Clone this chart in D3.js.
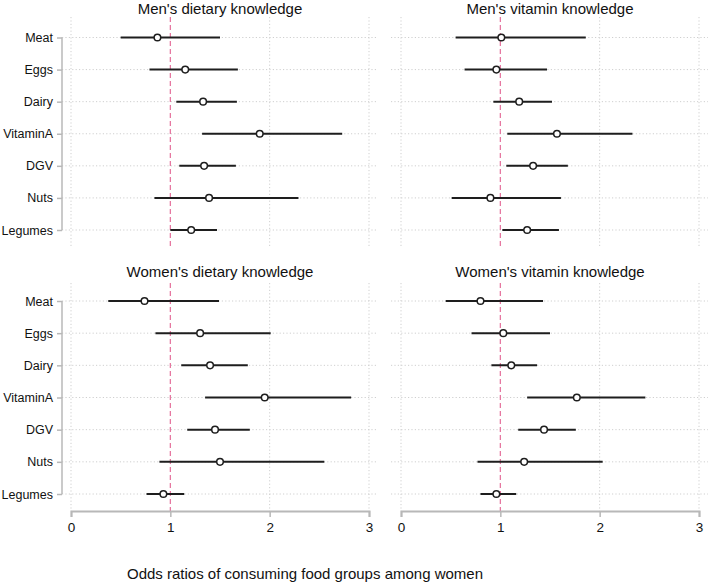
<!DOCTYPE html>
<html>
<head>
<meta charset="utf-8">
<script src="https://cdn.jsdelivr.net/npm/d3@7"></script>
<style>
  body { margin: 0; background: #fff; }
  svg { font-family: "Liberation Sans", Arial, sans-serif; display: block; }
</style>
</head>
<body>
<div id="chart"></div>
<script>
// categories (top to bottom)
const categories = ['Meat', 'Eggs', 'Dairy', 'VitaminA', 'DGV', 'Nuts', 'Legumes'];
const panelTitles = [
  "Men's dietary knowledge",
  "Men's vitamin knowledge",
  "Women's dietary knowledge",
  "Women's vitamin knowledge",
];
const xTicks = [0, 1, 2, 3];
const xTitle = 'Odds ratios of consuming food groups among women';

// odds ratio, lower and upper CI per panel
const menDietOR = [0.87, 1.15, 1.33, 1.90, 1.34, 1.39, 1.21];
const menDietLo = [0.50, 0.79, 1.06, 1.32, 1.09, 0.84, 1.00];
const menDietHi = [1.50, 1.68, 1.67, 2.73, 1.66, 2.29, 1.47];

const menVitOR = [1.01, 0.96, 1.19, 1.57, 1.33, 0.90, 1.27];
const menVitLo = [0.55, 0.64, 0.93, 1.07, 1.06, 0.51, 1.02];
const menVitHi = [1.86, 1.47, 1.52, 2.33, 1.68, 1.61, 1.59];

const womenDietOR = [0.74, 1.30, 1.40, 1.95, 1.45, 1.50, 0.93];
const womenDietLo = [0.375, 0.85, 1.11, 1.35, 1.17, 0.89, 0.76];
const womenDietHi = [1.49, 2.01, 1.78, 2.82, 1.80, 2.55, 1.14];

const womenVitOR = [0.80, 1.03, 1.11, 1.77, 1.44, 1.24, 0.96];
const womenVitLo = [0.45, 0.71, 0.91, 1.27, 1.18, 0.77, 0.80];
const womenVitHi = [1.43, 1.50, 1.37, 2.46, 1.76, 2.03, 1.16];

const width = 709, height = 584;

const svg = d3.select('#chart').append('svg')
  .attr('width', width)
  .attr('height', height);

// panel layout: col 0 = left, col 1 = right; row 0 = top, row 1 = bottom
const cols = [
  { x0: 71, x3: 369, left: 62, right: 378, titleX: 220 },
  { x0: 401, x3: 699, left: 391, right: 708, titleX: 550 },
];
const rows = [
  { top: 17, bottom: 247, first: 37.5, last: 230, titleY: 14 },
  { top: 283, bottom: 511, first: 301, last: 494, titleY: 277 },
];

const panels = [
  { col: 0, row: 0, or: menDietOR, lo: menDietLo, hi: menDietHi },
  { col: 1, row: 0, or: menVitOR, lo: menVitLo, hi: menVitHi },
  { col: 0, row: 1, or: womenDietOR, lo: womenDietLo, hi: womenDietHi },
  { col: 1, row: 1, or: womenVitOR, lo: womenVitLo, hi: womenVitHi },
];

const gridColor = '#cfcfcf';
const axisColor = '#b8b8b8';

panels.forEach((p, i) => {
  const c = cols[p.col], r = rows[p.row];
  const x = d3.scaleLinear().domain([0, 3]).range([c.x0, c.x3]);
  const y = d3.scalePoint().domain(categories).range([r.first, r.last]);
  const g = svg.append('g');

  // horizontal dotted gridlines
  g.selectAll('.hgrid')
    .data(categories)
    .enter()
    .append('line')
    .attr('x1', c.left)
    .attr('x2', c.right)
    .attr('y1', d => y(d))
    .attr('y2', d => y(d))
    .attr('stroke', gridColor)
    .attr('stroke-width', 1)
    .attr('stroke-dasharray', '1.2,2.2');

  // vertical dotted gridlines (1 is the reference line)
  g.selectAll('.vgrid')
    .data(xTicks.filter(t => t !== 1))
    .enter()
    .append('line')
    .attr('x1', d => x(d))
    .attr('x2', d => x(d))
    .attr('y1', r.top)
    .attr('y2', r.bottom)
    .attr('stroke', gridColor)
    .attr('stroke-width', 1)
    .attr('stroke-dasharray', '1.2,2.2');

  // reference line at OR = 1
  g.append('line')
    .attr('x1', x(1))
    .attr('x2', x(1))
    .attr('y1', r.top)
    .attr('y2', r.bottom)
    .attr('stroke', '#e56f9b')
    .attr('stroke-width', 1.2)
    .attr('stroke-dasharray', '5,3');

  // confidence intervals
  g.selectAll('.ci')
    .data(categories)
    .enter()
    .append('line')
    .attr('x1', (d, k) => x(p.lo[k]))
    .attr('x2', (d, k) => x(p.hi[k]))
    .attr('y1', d => y(d))
    .attr('y2', d => y(d))
    .attr('stroke', '#1e1e1e')
    .attr('stroke-width', 2);

  // point estimates
  g.selectAll('.pt')
    .data(categories)
    .enter()
    .append('circle')
    .attr('cx', (d, k) => x(p.or[k]))
    .attr('cy', d => y(d))
    .attr('r', 3.3)
    .attr('fill', '#fff')
    .attr('stroke', '#1e1e1e')
    .attr('stroke-width', 1.5);

  // panel title
  svg.append('text')
    .attr('x', c.titleX)
    .attr('y', r.titleY)
    .attr('text-anchor', 'middle')
    .attr('font-size', 15)
    .attr('fill', '#111')
    .text(panelTitles[i]);

  // y axis on the left panels only
  if (p.col === 0) {
    const yAxis = g.append('g')
      .attr('transform', `translate(${c.left},0)`)
      .call(d3.axisLeft(y).tickSize(5).tickPadding(4));
    yAxis.select('.domain').remove();
    yAxis.append('line')
      .attr('y1', r.first)
      .attr('y2', r.last)
      .attr('stroke', axisColor)
      .attr('stroke-width', 1.5);
    yAxis.selectAll('.tick line')
      .attr('stroke', axisColor)
      .attr('stroke-width', 1.5);
    yAxis.selectAll('.tick text')
      .attr('font-size', 12.5)
      .attr('font-family', '"Liberation Sans", Arial, sans-serif')
      .attr('fill', '#111');
  }

  // x axis on the bottom panels only
  if (p.row === 1) {
    const xAxis = g.append('g')
      .attr('transform', `translate(0,${r.bottom})`)
      .call(d3.axisBottom(x).tickValues(xTicks).tickFormat(d3.format('d'))
        .tickSizeOuter(0).tickSize(6).tickPadding(5));
    xAxis.select('.domain')
      .attr('stroke', axisColor)
      .attr('stroke-width', 2);
    xAxis.selectAll('.tick line')
      .attr('stroke', axisColor)
      .attr('stroke-width', 1.5);
    xAxis.selectAll('.tick text')
      .attr('font-size', 13.5)
      .attr('font-family', '"Liberation Sans", Arial, sans-serif')
      .attr('fill', '#111');
  }
});

// overall x title
svg.append('text')
  .attr('x', 305)
  .attr('y', 579)
  .attr('text-anchor', 'middle')
  .attr('font-size', 15)
  .attr('fill', '#111')
  .text(xTitle);
</script>
</body>
</html>
